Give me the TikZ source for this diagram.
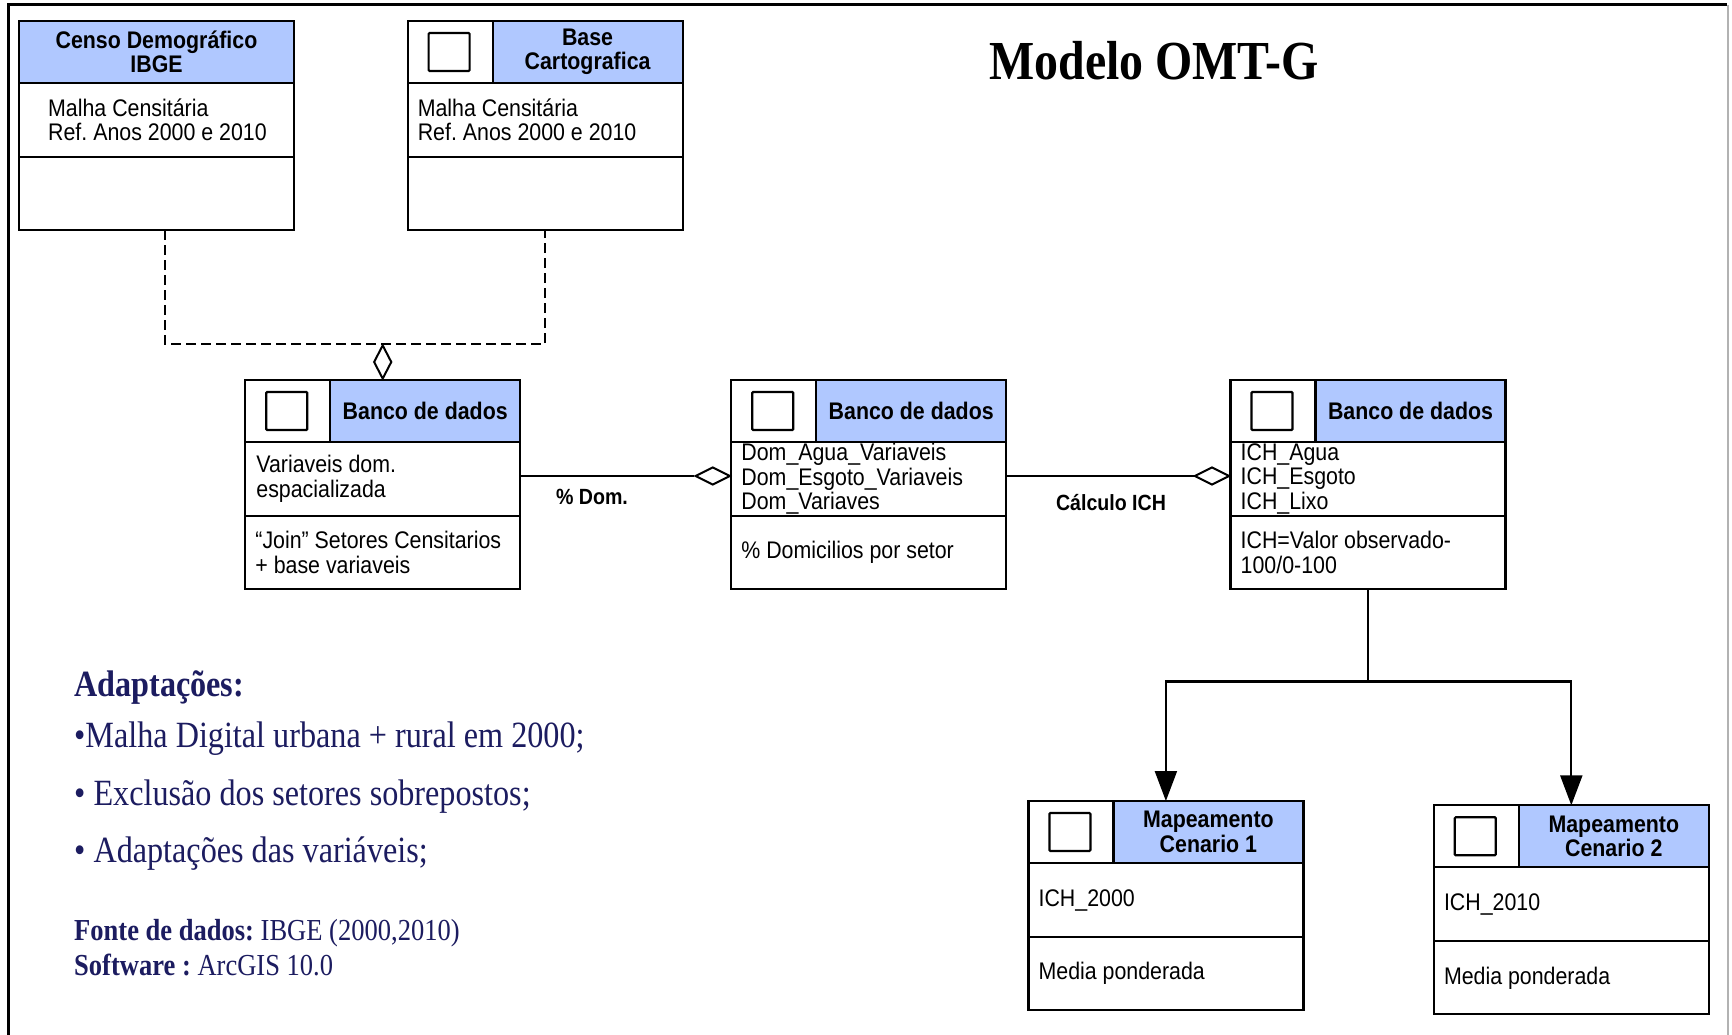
\documentclass[tikz,border=0pt]{standalone}
\usepackage{fontspec}
\newfontfamily\csans[FakeStretch=0.89]{Liberation Sans}
\newfontfamily\cserif[FakeStretch=0.87]{Liberation Serif}
\usetikzlibrary{shapes.geometric,arrows.meta,calc}
\definecolor{hdrblue}{RGB}{176,200,255}
\definecolor{navy}{RGB}{28,28,96}
\frenchspacing
\tikzset{
  boxline/.style={line width=2.2pt},
  boxframe/.style={draw=black, line width=2.2pt, minimum width=275pt, minimum height=209pt, inner sep=0pt, outer sep=0pt, anchor=north west},
  iconsq/.style={draw, line width=2.2pt, minimum width=41pt, minimum height=38pt, inner sep=0pt, rounded corners=1pt},
  boxtitle/.style={font=\csans\bfseries\fontsize{24}{24.5}\selectfont, align=center, inner sep=0pt},
  boxtext/.style={font=\csans\fontsize{24}{24.5}\selectfont, align=left, inner sep=0pt, anchor=west},
  linklabel/.style={font=\csans\bfseries\fontsize{22}{24}\selectfont, inner sep=0pt},
  conn/.style={line width=2.2pt},
  dashline/.style={line width=2.2pt, dash pattern=on 10pt off 5pt},
  vdiam/.style={diamond, draw, line width=2pt, fill=white, minimum width=18pt, minimum height=34pt, inner sep=0pt},
  hdiam/.style={diamond, draw, line width=2pt, fill=white, minimum width=35pt, minimum height=18pt, inner sep=0pt},
  bigtxt/.style={font=\cserif\fontsize{37}{40}\selectfont, text=navy, anchor=west, inner sep=0pt},
  smalltxt/.style={font=\cserif\fontsize{30.5}{32}\selectfont, text=navy, anchor=west, inner sep=0pt},
}
% #1 name #2 x #3 y #4 title #5 attr #6 ops #7 icon(1/0) #8 attr indent
\newcommand\omtbox[8]{%
  \ifnum#7=1
    \fill[hdrblue] (#2+85,#3) rectangle (#2+275,#3+62);
    \draw[boxline] (#2+85,#3) -- (#2+85,#3+62);
    \node[iconsq] (#1-icon) at (#2+41.5,#3+31) {};
    \node[boxtitle] (#1-title) at (#2+180,#3+31) {#4};
  \else
    \fill[hdrblue] (#2,#3) rectangle (#2+275,#3+62);
    \node[boxtitle] (#1-title) at (#2+137.5,#3+31) {#4};
  \fi
  \draw[boxline] (#2,#3+62) -- (#2+275,#3+62);
  \draw[boxline] (#2,#3+136) -- (#2+275,#3+136);
  \node[boxframe] (#1) at (#2,#3) {};
  \node[boxtext] (#1-attr) at (#2+#8,#3+99) {#5};
  \node[boxtext] (#1-ops) at (#2+10,#3+172.5) {#6};
}
\begin{document}
\begin{tikzpicture}[x=1pt,y=-1pt]
\useasboundingbox (0,0) rectangle (1732,1035);
\fill[white] (0,0) rectangle (1732,1035);
% frame
\draw[line width=3pt] (8,1035) -- (8,5) -- (1727,5);
\draw[gray!60, line width=1.2pt] (1728,5) -- (1728,1035);

% boxes
\omtbox{b1}{19}{21}{Censo Demográfico\\IBGE}{Malha Censitária\\Ref. Anos 2000 e 2010}{}{0}{29}
\omtbox{b2}{407.6}{21}{Base\\Cartografica}{Malha Censitária\\Ref. Anos 2000 e 2010}{}{1}{10}
\omtbox{b3}{245.2}{380}{Banco de dados}{Variaveis dom.\\espacializada}{“Join” Setores Censitarios\\+ base variaveis}{1}{11}
\omtbox{b4}{731.2}{380}{Banco de dados}{Dom\_Agua\_Variaveis\\Dom\_Esgoto\_Variaveis\\Dom\_Variaves}{\% Domicilios por setor}{1}{10}
\omtbox{b5}{1230.5}{380}{Banco de dados}{ICH\_Agua\\ICH\_Esgoto\\ICH\_Lixo}{ICH=Valor observado-\\100/0-100}{1}{10}
\omtbox{b6}{1028.4}{801}{Mapeamento\\Cenario 1}{ICH\_2000}{Media ponderada}{1}{10}
\omtbox{b7}{1433.8}{805.3}{Mapeamento\\Cenario 2}{ICH\_2010}{Media ponderada}{1}{10}

% aggregation diamonds
\node[vdiam, anchor=south] (d1) at (b3.north) {};
\node[hdiam, anchor=east] (d2) at ($(b4.north west)+(0,96)$) {};
\node[hdiam, anchor=east] (d3) at ($(b5.north west)+(0,96)$) {};

% connectors
\draw[dashline] ([xshift=8.5pt]b1.south) |- (d1.north) -| (b2.south);
\draw[conn] (b3.east |- d2) -- (d2.west);
\draw[conn] (b4.east |- d3) -- (d3.west);
\coordinate (tj) at (1368,681.5);
\draw[conn] (b5.south) -- (b5.south |- tj);
\draw[conn, -{Triangle[length=30pt,width=22pt]}] (b5.south |- tj) -| (b6.north);
\draw[conn, -{Triangle[length=30pt,width=22pt]}] (b5.south |- tj) -| (b7.north);

% link labels
\node[linklabel] (lab1) at (592,497) {\% Dom.};
\node[linklabel] (lab2) at (1111,502.6) {Cálculo ICH};

% title
\node[font=\cserif\bfseries\fontsize{55}{60}\selectfont, inner sep=0pt] (title) at (1154,61) {Modelo OMT-G};

% notes
\node[bigtxt] (n1) at (74,688) {\bfseries Adaptações:};
\node[bigtxt] (n2) at (74,739) {•Malha Digital urbana + rural em 2000;};
\node[bigtxt] (n3) at (74,796.4) {• Exclusão dos setores sobrepostos;};
\node[bigtxt] (n4) at (74,853.8) {• Adaptações das variáveis;};
\node[smalltxt] (n5) at (74,933.4) {{\bfseries Fonte de dados:} IBGE (2000,2010)};
\node[smalltxt] (n6) at (74,965.4) {{\bfseries Software :} ArcGIS 10.0};
\end{tikzpicture}
\end{document}
